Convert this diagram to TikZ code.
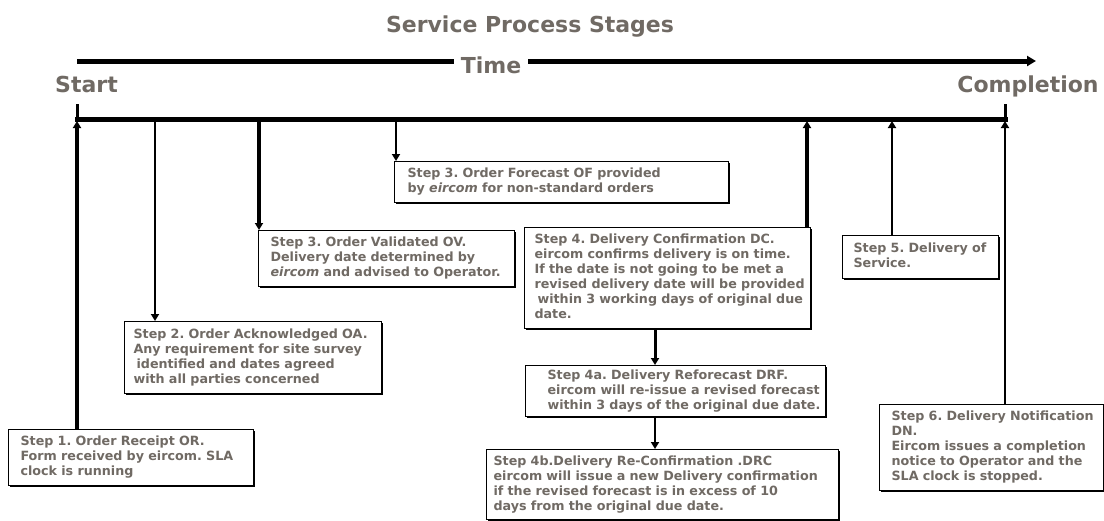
\documentclass[tikz,border=0pt]{standalone}
\usepackage{fontspec}
\setmainfont{DejaVu Sans}
\usepackage{xcolor}
\usetikzlibrary{arrows.meta, positioning, shadows}
\definecolor{textgray}{RGB}{112,106,100}
\newcommand{\stepfnt}{\fontsize{12.7}{15}\selectfont\bfseries\frenchspacing}
\newcommand{\headfnt}{\fontsize{22}{25}\selectfont\bfseries}
\newcommand{\steptext}[1]{\begin{tabular}{@{}l@{}}#1\end{tabular}}

\begin{document}
\begin{tikzpicture}[
    x=1pt, y=-1pt,
    stepbox/.style={rectangle, draw=black, fill=white, line width=1.1pt, text=textgray, font=\stepfnt, anchor=north west, inner ysep=3pt,
        drop shadow={shadow xshift=1.2pt, shadow yshift=-1.2pt, fill=black, opacity=1}},
    head/.style={text=textgray, font=\headfnt, anchor=base, inner sep=0pt},
    timeline/.style={draw=black, line width=5pt},
    link/.style={draw=black, -{Triangle[length=7pt, width=8pt]}}
]
    \useasboundingbox (0,0) rectangle (1104,520);

    % Headings
    \node[head] (title) at (530,32) {Service Process Stages};
    \node[head] (start) at (86.5,92) {Start};
    \node[head] (compl) at (1028,92) {Completion};
    \node[head, inner xsep=7pt] (time) at (491,73) {Time};

    % Time arrow
    \coordinate (ta0) at (77,61);
    \coordinate (ta1) at (1036,61);
    \draw[timeline] (ta0) -- (ta0 -| time.west);
    \draw[timeline, -{Triangle[length=9pt, width=10pt]}] (ta0 -| time.east) -- (ta1);

    % Process line with end marks
    \coordinate (tl0) at (77,119);
    \coordinate (tl1) at (1005,119);
    \draw[timeline, line cap=rect] (tl0) -- (tl1);
    \draw[line width=3pt] (tl0) -- ++(0,-15);
    \draw[line width=3pt] (tl1) -- ++(0,-15);

    % Step boxes
    \node[stepbox, minimum width=245, minimum height=56, inner xsep=12, text width=221] (s1) at (8,429) {\steptext{
        Step 1. Order Receipt OR.\\
        Form received by eircom. SLA\\
        clock is running}
    };
    \node[stepbox, minimum width=257, minimum height=72, inner xsep=9, text width=239] (s2) at (124,321) {\steptext{
        Step 2. Order Acknowledged OA.\\
        Any requirement for site survey\\
        \hspace*{3pt}identified and dates agreed\\
        with all parties concerned}
    };
    \node[stepbox, minimum width=256, minimum height=56, inner xsep=12, text width=232] (s3v) at (258,230) {\steptext{
        Step 3. Order Validated OV.\\
        Delivery date determined by\\
        \textit{eircom} and advised to Operator.}
    };
    \node[stepbox, minimum width=334, minimum height=41, inner xsep=13, text width=308] (s3f) at (394,161) {\steptext{
        Step 3. Order Forecast OF provided\\
        by \textit{eircom} for non-standard orders}
    };
    \node[stepbox, minimum width=286, minimum height=101, inner xsep=10, text width=266] (s4) at (524,227) {\steptext{
        Step 4. Delivery Confirmation DC.\\
        eircom confirms delivery is on time.\\
        If the date is not going to be met a\\
        revised delivery date will be provided\\
        \hspace*{3pt}within 3 working days of original due\\
        date.}
    };
    \node[stepbox, minimum width=300, minimum height=49, inner xsep=22, text width=256] (s4a) at (525,365) {\steptext{
        Step 4a. Delivery Reforecast DRF.\\
        eircom will re-issue a revised forecast\\
        within 3 days of the original due date.}
    };
    \node[stepbox, minimum width=352, minimum height=70, inner xsep=7, text width=338] (s4b) at (486,449) {\steptext{
        Step 4b.Delivery Re-Confirmation .DRC\\
        eircom will issue a new Delivery confirmation\\
        if the revised forecast is in excess of 10\\
        days from the original due date.}
    };
    \node[stepbox, minimum width=156, minimum height=43, inner xsep=11, text width=134] (s5) at (842,235) {\steptext{
        Step 5. Delivery of\\
        Service.}
    };
    \node[stepbox, minimum width=224, minimum height=86, inner xsep=12, text width=200] (s6) at (879,404) {\steptext{
        Step 6. Delivery Notification\\
        DN.\\
        Eircom issues a completion\\
        notice to Operator and the\\
        SLA clock is stopped.}
    };

    % Links between the process line and the steps
    \coordinate (t1) at (77,121);
    \coordinate (t2) at (155,121);
    \coordinate (t3v) at (259,121);
    \coordinate (t3f) at (396,121);
    \coordinate (t4) at (807,121);
    \coordinate (t5) at (892,121);
    \coordinate (t6) at (1005,121);
    \draw[link, line width=4.5pt] (t1 |- s1.north) -- (t1);
    \draw[link, line width=2.5pt] (t2) -- (t2 |- s2.north);
    \draw[link, line width=4pt] (t3v) -- (t3v |- s3v.north);
    \draw[link, line width=1.8pt] (t3f) -- (t3f |- s3f.north);
    \draw[link, line width=4pt] (t4 |- s4.north) -- (t4);
    \draw[link, line width=2.3pt] (t5 |- s5.north) -- (t5);
    \draw[link, line width=2.3pt] (t6 |- s6.north) -- (t6);

    % Delivery follow-up chain
    \draw[link, line width=3pt] (s4.south -| 655,0) -- (s4a.north -| 655,0);
    \draw[link, line width=2.5pt] (s4a.south -| 655,0) -- (s4b.north -| 655,0);
\end{tikzpicture}
\end{document}
